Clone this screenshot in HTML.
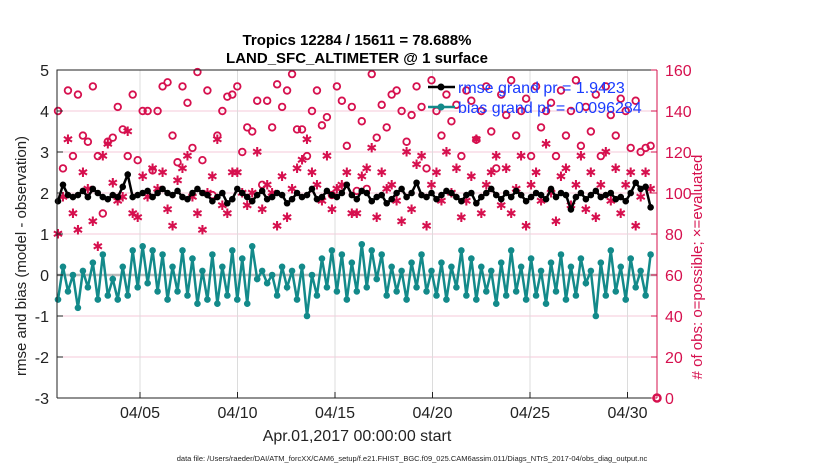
<!DOCTYPE html>
<html><head><meta charset="utf-8"><style>
body{margin:0;background:#fff;width:830px;height:470px;overflow:hidden;font-family:"Liberation Sans",sans-serif}
</style></head><body>
<svg id="c" width="830" height="470" xmlns="http://www.w3.org/2000/svg" font-family="Liberation Sans, sans-serif"></svg>
<script>
const dateTicks=["04/05","04/10","04/15","04/20","04/25","04/30"];
const dateTickDays=[4,9,14,19,24,29];
const leftTicks=[-3,-2,-1,0,1,2,3,4,5];
const rightTicks=[0,20,40,60,80,100,120,140,160];
const rmse=[1.8,2.2,1.95,1.9,1.95,2.05,1.9,2.1,2.0,1.9,1.85,1.95,1.9,2.15,2.45,1.9,1.95,2.0,2.05,1.9,2.0,2.1,2.0,1.95,2.05,1.9,1.85,2.0,2.1,2.0,1.95,1.8,1.9,2.0,1.75,1.85,2.1,2.0,1.9,1.8,1.95,2.05,1.85,1.9,2.0,1.95,1.75,1.85,2.0,1.9,1.95,2.1,1.85,1.9,2.05,1.95,1.9,2.0,2.2,1.95,1.85,2.05,2.0,1.8,1.9,1.95,1.75,1.85,2.0,2.1,1.9,2.0,2.25,1.95,1.9,2.0,1.85,1.95,2.05,2.0,1.9,1.8,1.95,2.0,1.75,1.9,2.0,2.1,1.95,1.85,2.0,1.9,2.05,1.95,1.8,1.9,2.0,1.95,1.85,2.1,1.9,2.0,1.95,1.6,1.9,2.0,1.85,1.95,2.05,1.9,1.95,2.0,1.85,1.9,1.8,2.0,2.25,2.1,2.15,1.65];
const bias=[-0.6,0.2,-0.4,0.0,-0.8,0.1,-0.3,0.3,-0.6,0.5,-0.5,-0.1,-0.6,0.2,-0.5,0.6,-0.3,0.7,-0.2,0.6,-0.4,0.5,-0.6,0.2,-0.4,0.6,-0.5,0.4,-0.7,0.1,-0.6,0.5,-0.7,0.2,-0.5,0.6,-0.6,0.4,-0.7,0.7,-0.1,0.1,-0.2,0.0,-0.5,0.2,-0.3,0.1,-0.6,0.2,-1.0,0.0,-0.5,0.4,-0.3,0.6,-0.4,0.5,-0.6,0.3,-0.4,0.75,-0.3,0.6,-0.1,0.5,-0.5,0.2,-0.4,0.1,-0.6,0.3,-0.3,0.5,-0.4,0.1,-0.5,0.3,-0.6,0.2,-0.3,0.6,-0.5,0.4,-0.6,0.2,-0.4,0.1,-0.7,0.3,-0.5,0.6,-0.4,0.2,-0.6,0.4,-0.5,0.1,-0.7,0.3,-0.4,0.5,-0.6,0.2,-0.5,0.4,-0.2,0.1,-1.0,0.3,-0.5,0.6,-0.4,0.2,-0.6,0.4,-0.3,0.1,-0.5,0.5];
const possible=[140,112,150,118,148,128,125,152,118,90,125,127,142,131,118,148,116,140,140,111,140,152,154,128,115,152,144,122,159,116,150,99,128,140,147,148,152,120,132,130,145,104,145,132,153,142,150,158,131,131,118,140,150,133,137,99,152,145,123,142,101,135,102,158,127,143,132,148,150,140,125,138,152,142,112,155,140,128,148,135,143,118,150,145,126,140,152,130,112,148,138,155,128,140,146,118,152,132,140,144,118,150,128,140,155,123,142,130,148,118,152,138,128,146,140,122,145,120,122,123];
const evaluated=[80,98,126,90,82,110,102,86,74,118,124,105,96,98,130,90,88,108,98,112,102,110,92,84,106,112,118,98,90,82,100,108,126,94,90,110,110,100,94,100,120,92,104,100,84,108,88,102,112,116,126,110,104,96,118,92,102,104,110,90,90,108,112,122,88,110,102,104,96,86,120,92,114,118,84,104,110,96,120,100,112,88,96,108,126,90,104,110,118,94,112,90,102,118,84,104,110,96,124,100,86,108,112,94,104,118,92,110,88,104,120,96,112,90,104,110,84,98,110,102];

const NS="http://www.w3.org/2000/svg",svg=document.getElementById('c');
const X0=57,X1=657,Y0=70,Y1=398;
const x=i=>58+i*4.98;
const xd=d=>62+d*19.5;
const yl=v=>Y0+(5-v)*(Y1-Y0)/8;
const yr=c=>Y1-c*(Y1-Y0)/160;
function el(t,a,p){const e=document.createElementNS(NS,t);for(const k in a)e.setAttribute(k,a[k]);(p||svg).appendChild(e);return e;}
function txt(s,a,p){const e=el('text',a,p);e.textContent=s;return e;}

const grid=el('g',{});
rightTicks.forEach(c=>el('line',{x1:X0,x2:X1,y1:yr(c),y2:yr(c),stroke:'#f4c8d8','stroke-width':1},grid));
dateTickDays.forEach(d=>el('line',{x1:xd(d),x2:xd(d),y1:Y0,y2:Y1,stroke:'#dcdcdc','stroke-width':1},grid));
const zl=el('line',{x1:X0,x2:X1,y1:yl(0),y2:yl(0),stroke:'#bbb','stroke-width':2.5});


const gp=el('g',{});
possible.forEach((c,i)=>el('circle',{cx:x(i),cy:yr(c),r:3.3,fill:'none',stroke:'#d6104e','stroke-width':1.8},gp));
const ge=el('g',{});
evaluated.forEach((c,i)=>{txt('✱',{x:x(i),y:yr(c)+4.5,'font-size':13,fill:'#d6104e','text-anchor':'middle'},ge);});

function series(vals,col,name){
  const g=el('g',{});
  el('polyline',{points:vals.map((v,i)=>x(i)+','+yl(v)).join(' '),fill:'none',stroke:col,'stroke-width':2.5},g);
  vals.forEach((v,i)=>el('circle',{cx:x(i),cy:yl(v),r:3.3,fill:col},g));
}
series(rmse,'#000','rmse-series');
series(bias,'#138a8a','bias-series');

const ax=el('g',{});
el('path',{d:`M${X0} ${Y1}V${Y0}H${X1}M${X0} ${Y1}H${X1}`,stroke:'#222',fill:'none','stroke-width':1},ax);
el('line',{x1:X1,x2:X1,y1:Y0,y2:Y1,stroke:'#d6104e','stroke-width':1},ax);
leftTicks.forEach(v=>{el('line',{x1:X0,x2:X0+6,y1:yl(v),y2:yl(v),stroke:'#222'},ax);
  txt(String(v),{x:X0-8,y:yl(v)+6,'font-size':16,'text-anchor':'end',fill:'#222'},ax);});
rightTicks.forEach(c=>{el('line',{x1:X1-6,x2:X1,y1:yr(c),y2:yr(c),stroke:'#d6104e'},ax);
  txt(String(c),{x:X1+8,y:yr(c)+6,'font-size':16,fill:'#d6104e'},ax);});
dateTicks.forEach((s,i)=>{const d=dateTickDays[i];el('line',{x1:xd(d),x2:xd(d),y1:Y1,y2:Y1-6,stroke:'#222'},ax);
  txt(s,{x:xd(d),y:Y1+20,'font-size':16,'text-anchor':'middle',fill:'#222'},ax);});
el('circle',{cx:X1,cy:Y1,r:3.5,fill:'none',stroke:'#d6104e','stroke-width':2.5},ax);

let t;
t=txt('Tropics 12284 / 15611 = 78.688%',{x:357,y:45,'font-size':15,'font-weight':'bold','text-anchor':'middle',fill:'#000'});
t=txt('LAND_SFC_ALTIMETER @ 1 surface',{x:357,y:63,'font-size':15,'font-weight':'bold','text-anchor':'middle',fill:'#000'});
t=txt('rmse and bias (model - observation)',{x:0,y:0,'font-size':15,'text-anchor':'middle',fill:'#222',transform:'translate(26,256) rotate(-90)'});
t=txt('# of obs: o=possible; ×=evaluated',{x:0,y:0,'font-size':15,'text-anchor':'middle',fill:'#d6104e',transform:'translate(702,267) rotate(-90)'});
t=txt('Apr.01,2017 00:00:00 start',{x:357,y:441,'font-size':16,'text-anchor':'middle',fill:'#222'});
t=txt('data file: /Users/raeder/DAI/ATM_forcXX/CAM6_setup/f.e21.FHIST_BGC.f09_025.CAM6assim.011/Diags_NTrS_2017-04/obs_diag_output.nc',{x:412,y:461,'font-size':7.5,'text-anchor':'middle',fill:'#222'});

const lg=el('g',{});
[['rmse grand pr = 1.9423','#000',91],['bias grand pr = -0.096284','#138a8a',111]].forEach(([s,c,y])=>{
  el('line',{x1:428,x2:455,y1:y-4,y2:y-4,stroke:c,'stroke-width':2.5},lg);
  el('circle',{cx:441,cy:y-4,r:3.5,fill:c},lg);
  txt(s,{x:458,y:y+2,'font-size':16,fill:'#1a3cff'},lg);
});
</script>
</body></html>
